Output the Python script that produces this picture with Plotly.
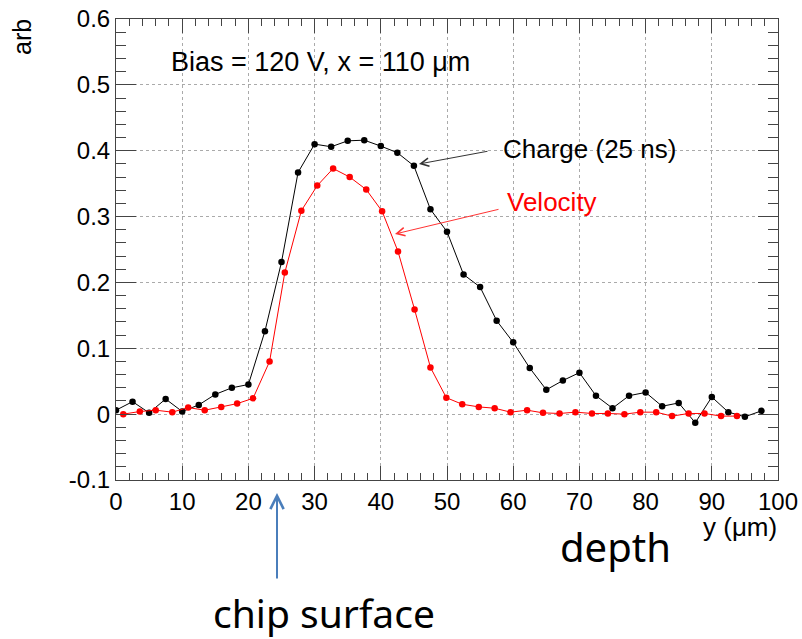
import plotly.graph_objects as go

# Charge (25 ns) series
charge_x = [0, 2.5, 5, 7.5, 10, 12.5, 15, 17.5, 20, 22.5, 25, 27.5, 30, 32.5, 35, 37.5,
            40, 42.5, 45, 47.5, 50, 52.5, 55, 57.5, 60, 62.5, 65, 67.5, 70, 72.5, 75,
            77.5, 80, 82.5, 85, 87.5, 90, 92.5, 95, 97.5]
charge_y = [0.006, 0.019, 0.002, 0.023, 0.004, 0.014, 0.030, 0.040, 0.045, 0.126, 0.231,
            0.367, 0.410, 0.406, 0.415, 0.416, 0.407, 0.397, 0.377, 0.311, 0.277, 0.212,
            0.193, 0.142, 0.109, 0.070, 0.037, 0.051, 0.063, 0.028, 0.009, 0.028, 0.033,
            0.012, 0.017, -0.013, 0.026, 0.003, -0.004, 0.005]

# Velocity series
velocity_x = [1.1, 3.6, 6.0, 8.5, 10.9, 13.4, 15.9, 18.3, 20.7, 23.2, 25.5, 28.0, 30.4,
              32.8, 35.3, 37.8, 40.2, 42.6, 45.1, 47.5, 49.9, 52.3, 54.8, 57.2, 59.6,
              62.1, 64.5, 67.0, 69.4, 71.9, 74.3, 76.8, 79.2, 81.6, 84.0, 86.5, 88.9,
              91.4, 93.8]
velocity_y = [0.0, 0.004, 0.006, 0.003, 0.010, 0.006, 0.011, 0.016, 0.024, 0.080, 0.215,
              0.309, 0.347, 0.373, 0.360, 0.341, 0.308, 0.247, 0.159, 0.071, 0.025, 0.015,
              0.011, 0.009, 0.003, 0.006, 0.002, 0.001, 0.003, 0.001, 0.001, 0.0, 0.003,
              0.003, -0.003, 0.001, 0.001, -0.003, -0.003]

x_ticks = [0, 10, 20, 30, 40, 50, 60, 70, 80, 90, 100]
x_tick_labels = ["0", "10", "20", "30", "40", "50", "60", "70", "80", "90", "100"]
y_ticks = [-0.1, 0, 0.1, 0.2, 0.3, 0.4, 0.5, 0.6]
y_tick_labels = ["-0.1", "0", "0.1", "0.2", "0.3", "0.4", "0.5", "0.6"]

FONT = "Liberation Sans, Arial, sans-serif"
BIG = "Noto Sans, Open Sans, sans-serif"

fig = go.Figure()
fig.add_trace(go.Scatter(x=charge_x, y=charge_y, mode="lines+markers",
                         line=dict(color="black", width=1),
                         marker=dict(color="black", size=6.5), showlegend=False))
fig.add_trace(go.Scatter(x=velocity_x, y=velocity_y, mode="lines+markers",
                         line=dict(color="#ff0000", width=1),
                         marker=dict(color="#ff0000", size=6.5), showlegend=False))

axis_common = dict(showline=True, linecolor="#444", linewidth=1, mirror="ticks",
                   ticks="inside", tickcolor="#444", showgrid=True, gridcolor="#aaa",
                   griddash="dot", gridwidth=1, zeroline=False, ticklabeloverflow="allow",
                   automargin=False,
                   tickfont=dict(family=FONT, size=24, color="black"))

fig.update_xaxes(range=[0, 100], tickvals=x_ticks, ticktext=x_tick_labels, ticklen=14,
                 minor=dict(dtick=2, ticklen=7, ticks="inside", tickcolor="#444", showgrid=False),
                 **axis_common)
fig.update_yaxes(range=[-0.1, 0.6], tickvals=y_ticks, ticktext=y_tick_labels, ticklen=20,
                 minor=dict(dtick=0.02, ticklen=10, ticks="inside", tickcolor="#444", showgrid=False),
                 **axis_common)

def px2paper(px, py):
    return (px - 116) / 662.0, (480 - py) / 461.0

annotations = []
def txt(text, px, py, size, color="black", family=FONT, xanchor="left", angle=0):
    xp, yp = px2paper(px, py)
    annotations.append(dict(text=text, x=xp, y=yp, xref="paper", yref="paper",
                            xanchor=xanchor, yanchor="middle", showarrow=False,
                            textangle=angle,
                            font=dict(family=family, size=size, color=color)))

def arrow(tail, head, color, width, size, headstyle=5):
    xp, yp = px2paper(*head)
    annotations.append(dict(text="", x=xp, y=yp, xref="paper", yref="paper",
                            ax=tail[0] - head[0], ay=tail[1] - head[1],
                            showarrow=True, arrowhead=headstyle, arrowcolor=color,
                            arrowwidth=width, arrowsize=size))

txt("Bias = 120 V, x = 110 \u03bcm", 169, 62, 27)
txt("Charge (25 ns)", 501, 149, 26)
txt("Velocity", 505, 202, 26, color="#ff0000")
txt("y (\u03bcm)", 779, 527, 26, xanchor="right")
txt("arb", 22, 37, 25, angle=-90, xanchor="center")
txt("depth", 558, 546, 40, family=BIG)
txt("chip surface", 211, 612, 39, family=BIG)

arrow((489, 151), (419, 164), "#333", 1, 1.6)
arrow((500, 209), (395, 234), "#ff3333", 1, 1.6)
arrow((277, 580), (277, 493), "#4a7ebb", 2, 1.3)

fig.update_layout(width=802, height=639, plot_bgcolor="white", paper_bgcolor="white",
                  margin=dict(l=116, r=24, t=19, b=159), annotations=annotations,
                  font=dict(family=FONT))

# remove the default page margin so the figure fills the window exactly
fig.write_html("out.html", config={"displayModeBar": False},
               post_script="document.body.style.margin='0px';document.body.style.overflow='hidden';")
